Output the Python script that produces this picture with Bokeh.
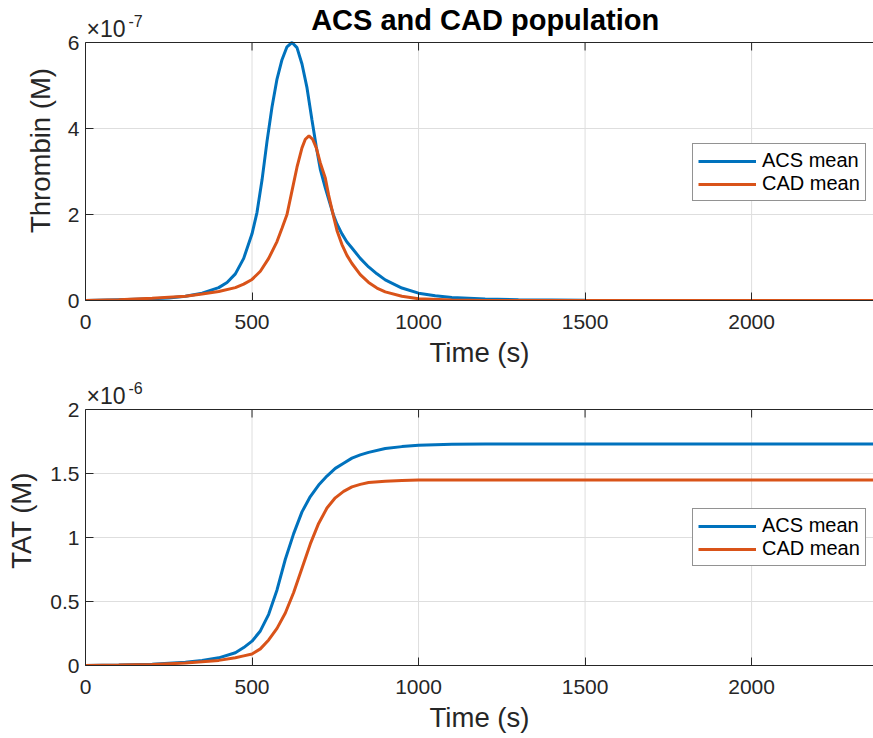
from bokeh.plotting import figure
from bokeh.layouts import column
from bokeh.models import Range1d, FixedTicker, Label, Span, CustomJSTickFormatter
from bokeh.embed import file_html
from bokeh.resources import INLINE

# ---------------- data ----------------
# Thrombin, units of 1e-7 M
thr_acs_time = [0, 100, 200, 250, 300, 350, 400, 425, 450, 475, 500, 515, 530, 545, 560, 575,
                590, 605, 620, 635, 650, 665, 680, 693, 705, 720, 730, 744, 755, 770, 785,
                800, 825, 850, 875, 900, 950, 1000, 1050, 1100, 1200, 1300, 1500, 1800, 2400]
thr_acs = [0.0, 0.02, 0.04, 0.06, 0.10, 0.17, 0.30, 0.42, 0.62, 0.98, 1.55, 2.05, 2.8, 3.7, 4.5,
           5.15, 5.6, 5.9, 6.0, 5.88, 5.5, 4.95, 4.2, 3.57, 3.05, 2.62, 2.36, 2.0, 1.78, 1.55,
           1.36, 1.22, 0.98, 0.78, 0.62, 0.48, 0.29, 0.17, 0.11, 0.07, 0.035, 0.02, 0.005, 0.0, 0.0]
thr_cad_time = [0, 100, 200, 300, 350, 400, 450, 475, 500, 525, 550, 575, 590, 605, 620, 635,
                650, 660, 671, 682, 693, 705, 720, 730, 744, 755, 770, 785, 800, 825, 850, 875,
                900, 950, 1000, 1100, 1200, 2400]
thr_cad = [0.0, 0.02, 0.05, 0.10, 0.15, 0.21, 0.30, 0.38, 0.49, 0.68, 0.98, 1.37, 1.68, 2.0, 2.55,
           3.1, 3.55, 3.75, 3.83, 3.75, 3.55, 3.2, 2.85, 2.45, 1.98, 1.63, 1.3, 1.05, 0.86, 0.6,
           0.42, 0.29, 0.2, 0.1, 0.04, 0.01, 0.0, 0.0]

# TAT, units of 1e-6 M
tat_time = [0, 100, 200, 300, 350, 400, 450, 475, 500, 525, 550, 575, 600, 625, 650, 675, 700,
            725, 750, 775, 800, 825, 850, 900, 950, 1000, 1100, 1200, 2400]
tat_acs = [0.0, 0.003, 0.01, 0.025, 0.04, 0.06, 0.10, 0.14, 0.19, 0.27, 0.40, 0.59, 0.83, 1.03,
           1.20, 1.32, 1.41, 1.48, 1.54, 1.58, 1.62, 1.645, 1.665, 1.695, 1.71, 1.72, 1.728,
           1.73, 1.73]
tat_cad = [0.0, 0.003, 0.008, 0.02, 0.03, 0.04, 0.06, 0.075, 0.09, 0.13, 0.20, 0.29, 0.41, 0.57,
           0.76, 0.95, 1.11, 1.23, 1.31, 1.36, 1.395, 1.415, 1.43, 1.44, 1.446, 1.45, 1.45,
           1.45, 1.45]

x_ticks = [0, 500, 1000, 1500, 2000]
thr_ticks = [0, 2, 4, 6]
tat_ticks = [0, 0.5, 1, 1.5, 2]
labels = ["ACS mean", "CAD mean"]
title_text = "ACS and CAD population"

X_MAX_VISIBLE = 2366   # visible part of the 0..2400 time axis
X_CENTER = 1200        # centre of the full 0..2400 axis
BLUE = "#0072BD"
ORANGE = "#D95319"
DARK = "#262626"
GRID = "#dedede"
FONT = "Liberation Sans"
TOP_PAD = 42           # px of headroom above the axes box (title / exponent)


def make_fig(height, frame_h, head, bottom, ymax, yticks, ylabel, ylab_standoff,
             t1, s1, t2, s2, exponent):
    per_px = ymax / frame_h
    y_top = ymax + head * per_px
    p = figure(width=873, height=height, title=None,
               x_range=Range1d(0, X_MAX_VISIBLE), y_range=Range1d(0, y_top),
               output_backend="svg", toolbar_location=None,
               min_border_left=85, min_border_right=0,
               min_border_top=0, min_border_bottom=bottom)
    p.outline_line_color = None
    p.background_fill_color = "white"
    p.border_fill_color = "white"

    # grid (vertical lines limited to the axes box)
    p.xgrid.visible = False
    p.ygrid.ticker = FixedTicker(ticks=yticks)
    p.ygrid.grid_line_color = GRID
    p.segment(x0=x_ticks, y0=[0] * len(x_ticks), x1=x_ticks, y1=[ymax] * len(x_ticks),
              line_color=GRID, line_width=1, level="underlay")
    # box top edge + inward ticks on it
    p.add_layout(Span(location=ymax, dimension="width", line_color=DARK, line_width=1))
    p.segment(x0=x_ticks, y0=[ymax - 8 * per_px] * len(x_ticks), x1=x_ticks,
              y1=[ymax] * len(x_ticks), line_color=DARK, line_width=1)

    p.line(t1, s1, line_color=BLUE, line_width=3, legend_label=labels[0])
    p.line(t2, s2, line_color=ORANGE, line_width=3, legend_label=labels[1])

    fmt = CustomJSTickFormatter(code="return String(tick);")
    p.xaxis.ticker = FixedTicker(ticks=x_ticks)
    p.yaxis.ticker = FixedTicker(ticks=yticks)
    p.xaxis.formatter = fmt
    p.yaxis.formatter = fmt
    p.yaxis.bounds = (0, ymax)
    for ax in p.axis:
        ax.axis_line_color = DARK
        ax.major_tick_line_color = DARK
        ax.major_tick_in = 8
        ax.major_tick_out = 0
        ax.minor_tick_line_color = None
        ax.major_label_text_font = FONT
        ax.major_label_text_font_size = "21px"
        ax.major_label_text_color = DARK
        ax.axis_label_text_font = FONT
        ax.axis_label_text_font_size = "27.5px"
        ax.axis_label_text_font_style = "normal"
        ax.axis_label_text_color = DARK
    p.xaxis.axis_label = "Time (s)"
    p.xaxis.major_label_standoff = 14
    p.xaxis.axis_label_standoff = 5
    p.yaxis.axis_label = ylabel
    p.yaxis.major_label_standoff = 6
    p.yaxis.axis_label_standoff = ylab_standoff

    p.add_layout(Label(x=0, y=ymax, x_offset=1, y_offset=14, text="\u00d710",
                       text_font=FONT, text_font_size="23px", text_color=DARK,
                       text_baseline="alphabetic", text_align="left"))
    p.add_layout(Label(x=0, y=ymax, x_offset=43, y_offset=22, text=exponent,
                       text_font=FONT, text_font_size="16px", text_color=DARK,
                       text_baseline="alphabetic", text_align="left"))

    lg = p.legend[0]
    lg.location = (607, 99)
    lg.label_text_font = FONT
    lg.label_text_font_size = "20px"
    lg.label_text_color = "black"
    lg.glyph_width = 58
    lg.glyph_height = 20
    lg.label_height = 20
    lg.label_standoff = 6
    lg.padding = 5
    lg.spacing = 0
    lg.margin = 0
    lg.border_line_color = DARK
    lg.border_line_width = 1
    lg.background_fill_color = "white"
    lg.background_fill_alpha = 1
    return p


# top panel: box from y=42 to y=300 px
p1 = make_fig(375, 258, TOP_PAD, 75, 6, thr_ticks, "Thrombin (M)", 9,
              thr_acs_time, thr_acs, thr_cad_time, thr_cad, "-7")
p1.add_layout(Label(x=X_CENTER, y=6, y_offset=23, text=title_text,
                    text_font=FONT, text_font_size="29px", text_font_style="bold",
                    text_color="black", text_align="center", text_baseline="alphabetic"))

# bottom panel: box from y=409 to y=665 px
p2 = make_fig(363, 256, 34, 73, 2, tat_ticks, "TAT (M)", 10,
              tat_time, tat_acs, tat_time, tat_cad, "-6")

layout = column(p1, p2, spacing=0)
open("out.html", "w").write(file_html(layout, INLINE))
